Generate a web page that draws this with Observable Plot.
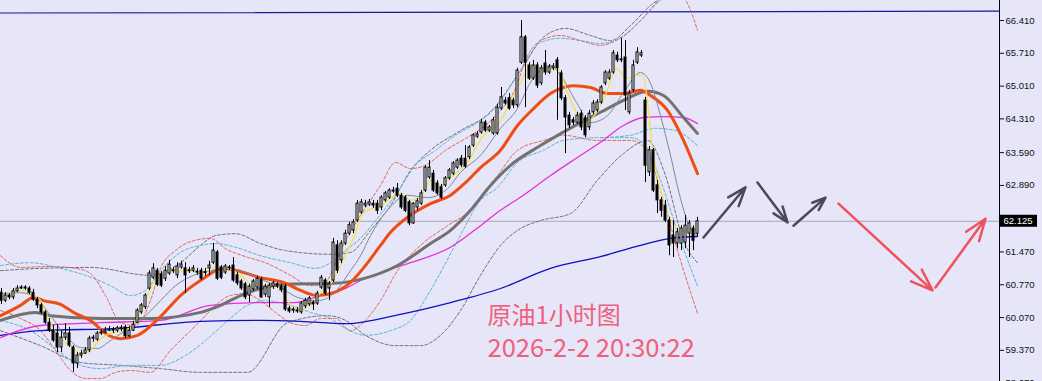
<!DOCTYPE html>
<html>
<head>
<meta charset="utf-8">
<script src="https://cdn.jsdelivr.net/npm/d3@7"></script>
<script src="https://cdn.jsdelivr.net/npm/@observablehq/plot@0.6"></script>
<style>
  html, body { margin: 0; padding: 0; background: #e6e6f8; }
  #chart { width: 1042px; height: 381px; overflow: hidden; }
</style>
</head>
<body>
<div id="chart"></div>
<script>
// Crude oil, 1-hour bars (OHLC), oldest first
const openP = [
  60.60,60.43,60.54,60.50,60.63,60.69,60.71,60.69,60.60,60.45,
  60.33,60.18,59.96,59.79,59.73,59.43,59.64,59.73,59.43,59.09,
  59.26,59.30,59.37,59.62,59.60,59.73,59.75,59.79,59.81,59.79,
  59.82,59.86,59.67,59.79,59.96,60.18,60.29,60.69,60.92,61.07,
  60.99,60.90,61.01,61.06,60.97,61.14,61.12,61.06,61.07,61.05,
  61.07,61.02,61.12,61.24,61.46,61.14,61.03,61.12,61.18,60.97,
  60.84,60.78,60.54,60.67,60.71,60.88,60.56,60.50,60.73,60.78,
  60.73,60.73,60.26,60.22,60.20,60.18,60.31,60.35,60.39,60.37,
  60.71,60.86,60.69,60.86,61.61,61.29,61.65,61.86,61.93,62.14,
  62.31,62.46,62.48,62.50,62.50,62.42,62.57,62.63,62.76,62.82,
  62.67,62.63,62.53,62.08,62.42,62.50,62.78,63.06,63.14,62.93,
  62.85,62.89,63.04,63.14,63.27,63.46,63.46,63.49,63.74,63.93,
  64.02,64.23,64.06,64.00,64.00,64.53,64.70,64.75,64.70,64.60,
  65.51,66.05,65.45,65.17,65.45,65.07,65.49,65.30,65.39,65.56,
  65.28,64.75,64.38,64.28,64.23,64.42,64.32,64.13,64.45,64.49,
  64.66,65.07,65.17,65.30,65.66,65.58,65.62,64.45,64.92,65.51,
  65.66,64.70,63.17,63.64,62.89,62.57,62.46,62.14,61.82,61.65,
  61.65,61.67,61.86,61.97,61.86
];
const highP = [
  60.69,60.60,60.58,60.69,60.75,60.75,60.75,60.73,60.67,60.50,
  60.37,60.22,60.05,59.90,59.92,59.79,59.94,59.86,59.47,59.32,
  59.37,59.43,59.67,59.69,59.77,59.81,59.86,59.88,59.86,59.88,
  59.90,59.90,59.88,59.99,60.26,60.37,60.58,61.07,61.22,61.12,
  61.05,61.16,61.29,61.14,61.24,61.27,61.24,61.14,61.18,61.12,
  61.12,61.12,61.27,61.65,61.50,61.18,61.20,61.18,61.35,61.03,
  60.88,60.82,60.78,60.88,60.95,60.92,60.78,60.80,60.84,60.82,
  60.78,60.78,60.31,60.28,60.28,60.41,60.48,60.52,60.43,60.63,
  60.97,60.90,60.84,61.76,61.71,61.71,61.93,62.10,62.16,62.57,
  62.59,62.57,62.59,62.57,62.57,62.67,62.76,62.82,62.85,62.93,
  62.72,62.67,62.57,62.52,62.61,62.78,63.31,63.42,63.21,62.99,
  62.91,63.08,63.25,63.40,63.46,63.53,63.74,63.74,63.99,64.04,
  64.30,64.28,64.17,64.34,64.62,64.98,64.77,64.85,64.75,65.39,
  66.41,66.09,65.51,65.56,65.51,65.45,65.77,65.47,65.49,65.62,
  65.34,64.81,64.45,64.34,64.45,64.49,64.38,64.49,64.70,64.72,
  65.02,65.34,65.36,65.77,65.73,66.03,65.98,64.92,65.56,65.83,
  65.77,64.77,63.72,63.68,63.00,62.63,62.57,62.21,62.14,61.97,
  62.03,62.25,62.14,62.03,62.21
];
const lowP = [
  60.35,60.39,60.45,60.45,60.60,60.67,60.65,60.56,60.41,60.26,
  60.14,59.92,59.75,59.54,59.32,59.32,59.58,59.43,58.90,58.98,
  59.20,59.28,59.32,59.54,59.56,59.69,59.73,59.77,59.73,59.75,
  59.77,59.62,59.64,59.77,59.94,60.14,60.24,60.65,60.88,60.73,
  60.71,60.84,60.97,61.01,60.90,61.10,60.58,61.01,61.03,60.97,
  60.86,60.95,60.97,61.20,60.86,60.88,60.99,61.07,60.82,60.75,
  60.65,60.45,60.39,60.63,60.67,60.48,60.50,60.28,60.67,60.69,
  60.60,60.20,60.16,60.16,60.16,60.14,60.26,60.31,60.22,60.33,
  60.67,60.54,60.43,60.82,61.01,61.22,61.61,61.82,61.86,62.10,
  62.27,62.42,62.44,62.40,62.27,62.35,62.53,62.59,62.72,62.63,
  62.38,62.31,62.03,62.06,62.35,62.46,62.74,63.02,62.74,62.68,
  62.59,62.85,63.00,63.10,63.23,63.27,63.25,63.44,63.70,63.89,
  63.98,64.02,64.02,63.96,63.96,64.49,64.60,64.49,64.53,64.55,
  65.47,64.55,65.13,65.13,64.96,65.02,65.24,65.26,65.34,64.28,
  64.70,63.57,64.10,64.17,64.19,64.06,63.91,64.06,64.40,64.45,
  64.62,65.02,65.13,65.26,65.51,65.51,64.49,64.40,64.87,65.47,
  65.62,62.95,63.08,62.74,62.29,62.21,62.10,61.39,61.35,61.54,
  61.50,61.54,61.35,61.50,61.80
];
const closeP = [
  60.43,60.54,60.50,60.63,60.69,60.71,60.69,60.60,60.45,60.33,
  60.18,59.96,59.79,59.58,59.43,59.64,59.73,59.47,59.09,59.26,
  59.30,59.37,59.62,59.64,59.73,59.75,59.79,59.81,59.79,59.84,
  59.85,59.67,59.79,59.92,60.22,60.33,60.54,61.01,61.12,60.77,
  60.75,61.07,61.20,61.08,61.16,61.20,60.97,61.08,61.12,61.03,
  60.90,61.04,61.18,61.50,60.90,60.92,61.16,61.14,60.86,60.80,
  60.69,60.50,60.73,60.84,60.90,60.50,60.73,60.75,60.80,60.73,
  60.65,60.24,60.20,60.24,60.22,60.37,60.43,60.48,60.35,60.58,
  60.92,60.58,60.78,61.67,61.07,61.65,61.86,62.04,62.10,62.50,
  62.53,62.50,62.53,62.46,62.35,62.63,62.72,62.78,62.78,62.67,
  62.42,62.35,62.08,62.50,62.55,62.72,63.27,63.27,62.78,62.72,
  62.63,63.04,63.21,63.36,63.42,63.32,63.29,63.70,63.96,63.98,
  64.23,64.06,64.13,64.28,64.55,64.77,64.64,64.53,64.60,65.34,
  66.05,65.51,65.17,65.45,65.02,65.39,65.30,65.41,65.43,65.39,
  64.75,64.34,64.17,64.23,64.38,64.13,63.96,64.42,64.64,64.66,
  64.98,65.30,65.30,65.71,65.56,65.56,64.81,64.85,65.45,65.73,
  65.71,63.31,63.64,62.78,62.57,62.35,62.14,61.61,61.65,61.89,
  61.97,62.03,62.08,61.71,62.125
];
const lastPrice = 62.125;

// Price-axis tick values
const tickVals = [66.41, 65.71, 65.01, 64.31, 63.59, 62.89, 61.47, 60.77, 60.07, 59.37, 58.67];

// Moving averages: [bar index, price]
const maYellow = [[-0.25,60.50],[4.75,60.65],[7.25,60.58],[9.75,60.43],[12.25,59.94],[14.75,59.62],[17.25,59.47],[19.75,59.30],[22.25,59.37],[24.75,59.62],[27.25,59.73],[29.75,59.77],[32.25,59.86],[34.75,60.18],[37.25,60.69],[39.75,60.97],[42.25,61.05],[46,61.07],[50.5,61.03],[53,61.14],[56.5,61.12],[59.75,60.97],[63,60.75],[69,60.75],[71.5,60.43],[73.75,60.24],[77.25,60.35],[79.75,60.60],[82.25,60.78],[85.5,61.33],[88,61.76],[90.25,62.29],[94.75,62.46],[99.75,62.72],[102.25,62.57],[104.75,62.63],[107.25,63.00],[109.75,62.89],[112.25,63.06],[116.5,63.38],[120.5,63.96],[124,64.17],[127.25,64.66],[129.75,65.09],[132.25,65.45],[134.75,65.34],[139,65.39],[141.5,64.87],[143.75,64.45],[146.25,64.23],[148.75,64.45],[151.25,64.87],[153.75,65.39],[156.25,65.17],[158.75,65.24],[160.5,65.24],[161.5,64.64],[163,63.49],[164.75,62.78],[167.25,62.14],[169.75,61.93],[172.25,61.93],[174,61.95]];
const maThin = [[-0.25,60.58],[4.75,60.60],[8.5,60.50],[12.25,60.11],[16.5,59.64],[19.75,59.43],[24,59.41],[27.25,59.58],[31,59.79],[34.75,60.01],[39.75,60.43],[43.5,60.75],[48,60.97],[52.25,61.07],[56,61.12],[59.75,61.07],[65.5,60.86],[69.75,60.71],[74,60.50],[79,60.43],[83,60.58],[87.25,61.07],[89.75,61.39],[92.25,61.82],[96.5,62.36],[101.5,62.68],[106.5,62.63],[111.5,62.82],[114.75,63.17],[119.75,63.53],[124.75,64.11],[129,64.53],[132.25,65.09],[137.25,65.45],[139.75,65.24],[143.75,64.66],[147.25,64.23],[151.5,64.38],[155.5,64.87],[159.75,65.30],[162.25,65.07],[164.75,64.38],[167.25,63.53],[169.75,62.61],[172.25,61.97],[174,61.82]];
const maOrange = [[-0.25,60.11],[4.75,60.33],[8,60.50],[10.5,60.43],[14.75,60.35],[18,60.18],[23,59.96],[26,59.73],[29.75,59.62],[34,59.69],[39.75,60.09],[44.75,60.54],[49.75,60.86],[55.5,61.12],[59,61.07],[64.75,60.92],[70.5,60.82],[74.75,60.65],[79,60.54],[83,60.60],[87.25,60.82],[91,61.18],[94.75,61.61],[97.25,61.89],[101.5,62.21],[107.25,62.50],[112.25,62.68],[116,62.95],[119.75,63.27],[124.75,63.64],[129,64.17],[133,64.53],[137.25,64.85],[143,65.02],[147.25,64.98],[151.5,64.85],[155.5,64.85],[159.75,64.92],[162.25,64.81],[166.5,64.49],[170.5,63.85],[174,63.14]];
const maGrey = [[-0.25,60.01],[8.5,60.18],[12.25,60.11],[24.75,60.05],[37.25,60.05],[49.75,60.18],[54.75,60.33],[59.75,60.54],[64.75,60.69],[70.5,60.78],[83,60.80],[90.5,60.90],[99,61.18],[107.25,61.65],[112.25,61.93],[117.25,62.36],[122.25,62.89],[127.25,63.32],[134.75,63.74],[144.75,64.23],[151.5,64.53],[156.5,64.75],[161.5,64.90],[165.5,64.81],[170.5,64.34],[174,64.00]];
const maMagenta = [[-0.25,59.64],[9.75,59.90],[24.75,59.96],[39.75,60.01],[52.25,60.33],[64.75,60.39],[73,60.39],[79.75,60.54],[86,60.69],[89.75,60.86],[94.75,61.03],[102.25,61.24],[112.25,61.57],[119.75,62.03],[124.75,62.36],[130.5,62.68],[137.25,63.10],[143.5,63.46],[149.75,63.81],[155.5,64.17],[160.5,64.34],[165.5,64.36],[170.5,64.34],[174,64.21]];
const maBlue = [[-0.25,59.69],[9.75,59.79],[29.75,59.84],[49.75,59.99],[64.75,60.01],[74.75,59.99],[86,59.94],[99.75,60.14],[112.25,60.39],[124.75,60.69],[137.25,61.12],[149.75,61.37],[159.75,61.61],[167.25,61.76],[174,61.80]];

// Envelope bands: [bar index, price]
const bandRedUp = [[-0.25,61.39],[4.75,61.14],[12.25,61.16],[18.5,61.12],[22.25,61.01],[26,60.54],[29.75,59.96],[33.5,59.90],[37.25,60.43],[39.75,61.12],[43.5,61.50],[48,61.71],[52.25,61.76],[56,61.54],[61,61.37],[66,61.24],[72.25,60.97],[77.25,60.75],[81,60.82],[83.5,61.24],[86,61.71],[89.75,62.25],[94.75,62.89],[98.5,63.38],[102.25,63.25],[106,63.32],[111,63.64],[116,63.89],[121,64.17],[124.75,64.49],[128.5,64.96],[131,65.56],[134.75,65.98],[139.75,66.09],[144.75,65.98],[149.75,65.88],[153.5,65.98],[157.25,66.20],[161,66.52],[164.25,66.84],[167.25,67.05],[171,66.84],[174,66.20]];
const bandRedLow = [[-0.25,60.22],[4.75,60.05],[9.75,59.79],[13.5,59.37],[17.25,58.94],[21,58.77],[24.75,58.77],[28.5,58.90],[32.25,58.94],[37.25,58.90],[42.25,59.37],[47.25,59.79],[51,60.11],[54,60.37],[57.25,60.54],[61,60.58],[64.75,60.43],[68.5,60.18],[72.25,59.96],[76,59.90],[79.75,60.05],[83.5,60.05],[87.25,59.79],[91,60.01],[94.75,60.43],[99,61.07],[104.75,61.61],[111.5,62.03],[117.25,62.36],[124,63.10],[129,63.64],[135.5,63.85],[140.5,63.96],[149,63.85],[157.25,63.85],[161,63.68],[164.75,62.78],[169.75,61.29],[174,60.16]];
const bandCyanUp = [[-0.25,61.18],[7.25,61.24],[14.75,61.12],[21,60.97],[27.25,60.75],[32.25,60.54],[36,60.65],[39.75,61.07],[44.75,61.46],[49.75,61.61],[53.5,61.65],[58.5,61.57],[64.75,61.39],[72.25,61.24],[78.5,61.12],[82.25,61.24],[86,61.50],[89.75,61.76],[93.5,62.14],[98.5,62.68],[103.5,63.32],[108.5,63.64],[113.5,63.96],[119.75,64.28],[124.75,64.70],[129.75,65.34],[134.75,65.94],[139.75,66.03],[144.75,65.98],[149.75,65.92],[154.75,66.03],[159.75,66.41],[164.75,66.84],[169.75,67.05]];
const bandCyanLow = [[-0.25,60.01],[7.25,59.79],[14.75,59.32],[19.75,59.05],[24.75,58.98],[32.25,59.05],[39.75,59.05],[46,59.26],[51,59.58],[56,59.96],[61.5,60.33],[66,60.43],[72.25,60.33],[77.25,60.18],[82.25,60.05],[86,59.84],[91,59.69],[97.25,59.79],[102.25,60.01],[107.25,60.65],[114,61.71],[119.75,62.57],[124,62.85],[129,63.38],[135.5,63.64],[140.5,63.85],[149,63.91],[157.25,63.91],[161,63.74],[164.75,63.00],[169.75,61.71],[174,60.75]];
const bandCyanTail = [[149.75,63.91],[157.25,63.96],[163.5,64.11],[168.5,64.06],[174,63.74]];
const bandGreyUp = [[-0.25,61.07],[9.75,61.12],[22.25,61.14],[37.25,60.97],[44.75,61.24],[49.75,61.61],[53.5,61.82],[58.5,61.86],[64.75,61.65],[71,61.50],[82.25,61.42],[87.25,61.46],[92.25,61.93],[97.25,62.46],[102.25,63.21],[107.25,63.64],[114.75,64.06],[122.25,64.45],[129.75,65.34],[136,66.09],[141,66.24],[147.25,66.09],[152.25,65.98],[157.25,66.30],[162.25,66.73],[166,66.94]];
const bandGreyLow = [[-0.25,59.79],[9.75,59.47],[19.75,59.11],[29.75,59.05],[39.75,58.98],[49.75,58.90],[61.5,58.90],[71.5,59.96],[81.5,60.11],[86,60.01],[91,59.69],[98.5,59.47],[104.75,59.47],[109.75,59.69],[114.75,60.22],[119.75,60.97],[124.75,61.61],[129.75,61.97],[134.75,62.14],[142.25,62.29],[149,63.00],[155.5,63.57],[161.5,63.85],[166,63.10],[170.5,61.71],[174,61.24]];

// Resistance line across the top: [bar index, price]
const topLine = [[-0.25,66.57],[249.5,66.61]];

// Projected path arrows: [from index, from price, to index, to price]
const pathDark = [[175.5,61.78,186,62.85],[189,62.95,196.5,62.10],[198,62.03,206,62.63]];
const pathRed = [[209.25,62.50,232.75,60.65],[233.5,60.71,246,62.18]];

const titleText = "原油1小时图";
const stampText = "2026-2-2 20:30:22";

const candles = d3.range(closeP.length).map(i => ({i, o: openP[i], h: highP[i], l: lowP[i], c: closeP[i]}));
const xMax = 249.5;
const px = d => d[0], py = d => d[1];

const band = (data, stroke) => Plot.line(data, {x: px, y: py, stroke, strokeWidth: 1, strokeDasharray: "3,2", curve: "monotone-x", clip: true});
const ma = (data, stroke, strokeWidth) => Plot.line(data, {x: px, y: py, stroke, strokeWidth, curve: "monotone-x", clip: true});

const chart = Plot.plot({
  width: 1042,
  height: 381,
  marginLeft: 0,
  marginRight: 43,
  marginTop: 0,
  marginBottom: 0,
  style: {background: "#e6e6f8", fontFamily: "'Liberation Sans', Arial, sans-serif", fontSize: "9.5px", color: "#111"},
  x: {type: "linear", domain: [-0.25, xMax], axis: null},
  y: {domain: [58.705, 66.837], axis: "right", ticks: tickVals, tickFormat: d => d.toFixed(3), tickSize: 4, tickPadding: 2, label: null},
  marks: [
    Plot.ruleY([lastPrice], {stroke: "#a8a8b8", strokeWidth: 1}),
    Plot.line(topLine, {x: px, y: py, stroke: "#1818a0", strokeWidth: 1.2}),
    band(bandGreyUp, "#6c6c78"),
    band(bandGreyLow, "#6c6c78"),
    band(bandCyanUp, "#58b4d6"),
    band(bandCyanLow, "#58b4d6"),
    band(bandCyanTail, "#58b4d6"),
    band(bandRedUp, "#e0645a"),
    band(bandRedLow, "#e0645a"),
    ma(maBlue, "#1010c0", 1.3),
    ma(maMagenta, "#e830d8", 1.3),
    ma(maGrey, "#727272", 3),
    ma(maOrange, "#f04c14", 3),
    ma(maThin, "#7a8a9c", 1),
    ma(maYellow, "#f2e24a", 1.3),
    Plot.ruleX(candles, {x: "i", y1: "l", y2: "h", stroke: "#000", strokeWidth: 1}),
    Plot.rect(candles, {
      x1: d => d.i - 0.375, x2: d => d.i + 0.375, y1: "o", y2: "c",
      insetLeft: 0.5, insetRight: 0.5,
      fill: d => d.c >= d.o ? "#ffffff" : "#000000", stroke: "#000", strokeWidth: 1
    }),
    Plot.arrow(pathDark, {x1: d => d[0], y1: d => d[1], x2: d => d[2], y2: d => d[3], stroke: "#4a4a56", strokeWidth: 2.5, headLength: 12, headAngle: 40}),
    Plot.arrow(pathRed, {x1: d => d[0], y1: d => d[1], x2: d => d[2], y2: d => d[3], stroke: "#f0525c", strokeWidth: 2.5, headLength: 14, headAngle: 40}),
    Plot.ruleX([xMax], {stroke: "#000", strokeWidth: 1}),
    Plot.rect([lastPrice], {x1: xMax, x2: xMax, y1: d => d, y2: d => d, insetLeft: 1, insetRight: -38, insetTop: -6, insetBottom: -6, fill: "#000"}),
    Plot.text([lastPrice], {x: xMax, y: d => d, text: d => d.toFixed(3), dx: 4, textAnchor: "start", fill: "#fff", fontSize: 9.5}),
    Plot.text([titleText], {frameAnchor: "top-left", dx: 487, dy: 316, text: d => d, textAnchor: "start", lineAnchor: "middle", fill: "#f0607a", fontSize: 24, fontFamily: "'Noto Sans CJK SC', sans-serif"}),
    Plot.text([stampText], {frameAnchor: "top-left", dx: 487, dy: 348, text: d => d, textAnchor: "start", lineAnchor: "middle", fill: "#f0607a", fontSize: 25.5, fontFamily: "'Noto Sans CJK SC', sans-serif"})
  ]
});
document.getElementById("chart").appendChild(chart);
</script>
</body>
</html>
